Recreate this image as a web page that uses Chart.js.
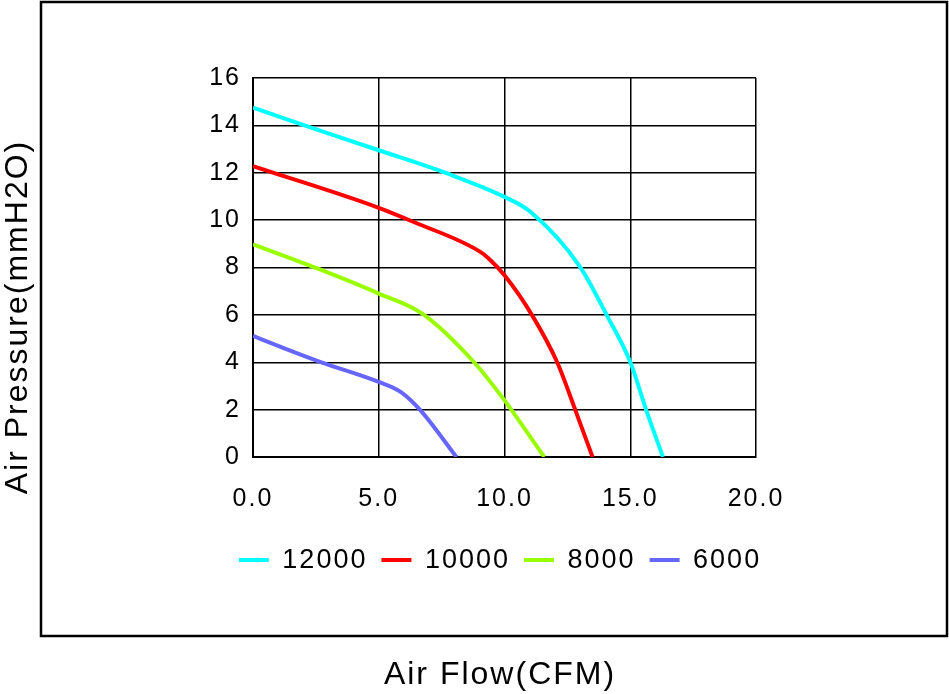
<!DOCTYPE html>
<html>
<head>
<meta charset="utf-8">
<script src="https://cdn.jsdelivr.net/npm/chart.js@4.4.1/dist/chart.umd.min.js"></script>
<style>
  html, body { margin: 0; padding: 0; background: #fff; overflow: hidden; }
  #wrap { width: 1000px; height: 694px; }
</style>
</head>
<body>
<div id="wrap"><canvas id="fanChart" width="1000" height="694"></canvas></div>
<script>
// fan curves
const seriesNames = ['12000', '10000', '8000', '6000'];
const flow12000 = [0, 1.9, 5.0, 7.72, 10.0, 11.03, 13.01, 14.07, 15.0, 15.64, 16.3];
const pres12000 = [14.75, 14.05, 12.95, 11.97, 10.98, 10.35, 8.02, 5.98, 4.01, 1.97, 0];
const flow10000 = [0, 5.0, 6.39, 9.04, 9.37, 10.0, 11.1, 12.09, 12.82, 13.5];
const pres10000 = [12.28, 10.52, 9.92, 8.66, 8.38, 7.67, 5.98, 4.01, 1.97, 0];
const flow8000 = [0, 2.56, 5.0, 6.73, 8.78, 10.0, 11.58];
const pres8000 = [8.98, 7.96, 6.9, 6.05, 4.01, 2.39, 0];
const flow6000 = [0, 1.1, 2.69, 5.0, 5.87, 6.66, 8.09];
const pres6000 = [5.11, 4.65, 4.01, 3.17, 2.75, 1.97, 0];
const xTicks = [0, 5, 10, 15, 20];
const yTicks = [0, 2, 4, 6, 8, 10, 12, 14, 16];
const lineColors = ['#00ffff', '#ff0000', '#99ff00', '#6666ff'];
const yTitle = 'Air Pressure(mmH2O)';
const xTitle = 'Air Flow(CFM)';

const flows = [flow12000, flow10000, flow8000, flow6000];
const pressures = [pres12000, pres10000, pres8000, pres6000];

function toPoints(xs, ys) {
  return xs.map((x, i) => ({ x: x, y: ys[i] }));
}

Chart.defaults.font.family = "'Liberation Sans', Arial, sans-serif";
Chart.defaults.color = '#000';

// a little tracking, the original lettering is spaced out
const spacing = {
  id: 'spacing',
  beforeUpdate(chart) { chart.ctx.letterSpacing = '2px'; },
  beforeDraw(chart) { chart.ctx.letterSpacing = '2px'; }
};

// frame round the figure + the y title, which sits lower than the plot middle
const frame = {
  id: 'frame',
  afterDraw(chart) {
    const c = chart.ctx;
    c.save();
    c.strokeStyle = '#000';
    c.lineWidth = 2.5;
    c.strokeRect(41, 2, 906, 634);
    c.translate(18, 317);
    c.rotate(-Math.PI / 2);
    c.letterSpacing = '2px';
    c.font = "32px 'Liberation Sans', Arial, sans-serif";
    c.fillStyle = '#000';
    c.textAlign = 'center';
    c.textBaseline = 'middle';
    c.fillText(yTitle, 0, 0);
    c.restore();
  }
};

const ctx = document.getElementById('fanChart').getContext('2d');
const fanChart = new Chart(ctx, {
  type: 'line',
  data: {
    datasets: seriesNames.map((name, i) => ({
      label: name,
      data: toPoints(flows[i], pressures[i]),
      borderColor: lineColors[i],
      backgroundColor: lineColors[i],
      borderWidth: 4,
      pointRadius: 0,
      cubicInterpolationMode: 'monotone'
    }))
  },
  options: {
    responsive: false,
    animation: false,
    devicePixelRatio: 1,
    layout: { padding: { left: 0, right: 0, top: 78, bottom: 0 } },
    plugins: {
      tooltip: { enabled: false },
      legend: {
        position: 'bottom',
        labels: {
          boxWidth: 30,
          boxHeight: 4,
          padding: 14,
          font: { size: 27 },
          color: '#000',
          generateLabels(chart) {
            return Chart.defaults.plugins.legend.labels.generateLabels(chart)
              .map(item => Object.assign(item, { lineWidth: 0 }));
          }
        }
      },
      title: {
        display: true,
        position: 'bottom',
        text: xTitle,
        color: '#000',
        font: { size: 32, weight: 'normal' },
        padding: { top: 72, bottom: 0 }
      }
    },
    scales: {
      x: {
        type: 'linear',
        min: 0,
        max: 20,
        afterBuildTicks(scale) { scale.ticks = xTicks.map(v => ({ value: v })); },
        afterFit(scale) { scale.height = 75.6; },
        ticks: {
          padding: 27,
          font: { size: 25 },
          color: '#000',
          callback: v => v.toFixed(1)
        },
        grid: { color: '#000', lineWidth: 1.5, drawTicks: false },
        border: { color: '#000', width: 2 }
      },
      y: {
        min: 0,
        max: 16,
        afterBuildTicks(scale) { scale.ticks = yTicks.map(v => ({ value: v })); },
        afterFit(scale) { scale.width = 253; },
        ticks: { padding: 12, font: { size: 25 }, color: '#000' },
        grid: { color: '#000', lineWidth: 1.5, drawTicks: false },
        border: { color: '#000', width: 2 }
      },
      // empty right axis, only keeps the plot narrow
      yRight: {
        position: 'right',
        min: 0,
        max: 16,
        afterFit(scale) { scale.width = 244; },
        ticks: { display: false },
        grid: { display: false, drawTicks: false },
        border: { display: false }
      }
    }
  },
  plugins: [spacing, frame]
});
</script>
</body>
</html>
